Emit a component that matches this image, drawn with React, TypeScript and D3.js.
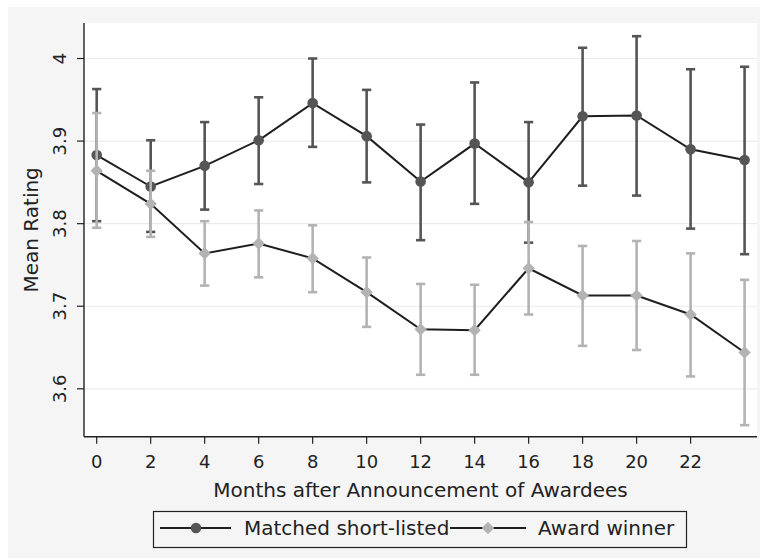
import React from 'react';
import * as d3 from 'd3';

// months after announcement
const months = [0, 2, 4, 6, 8, 10, 12, 14, 16, 18, 20, 22, 24];
const xTicks = [0, 2, 4, 6, 8, 10, 12, 14, 16, 18, 20, 22];
const yTicks = [3.6, 3.7, 3.8, 3.9, 4];

// Matched short-listed
const matchedMean = [3.883, 3.845, 3.870, 3.901, 3.946, 3.906, 3.851, 3.897, 3.850, 3.930, 3.931, 3.890, 3.877];
const matchedLo = [3.803, 3.790, 3.817, 3.848, 3.893, 3.850, 3.780, 3.824, 3.777, 3.846, 3.834, 3.794, 3.763];
const matchedHi = [3.963, 3.901, 3.923, 3.953, 4.000, 3.962, 3.920, 3.971, 3.923, 4.013, 4.027, 3.987, 3.990];

// Award winner
const winnerMean = [3.864, 3.824, 3.764, 3.776, 3.758, 3.717, 3.672, 3.671, 3.746, 3.713, 3.713, 3.690, 3.644];
const winnerLo = [3.795, 3.784, 3.725, 3.735, 3.717, 3.675, 3.617, 3.617, 3.690, 3.652, 3.647, 3.615, 3.556];
const winnerHi = [3.934, 3.864, 3.803, 3.816, 3.798, 3.759, 3.727, 3.726, 3.802, 3.773, 3.779, 3.764, 3.732];

const seriesNames = ['Matched short-listed', 'Award winner'];

const W = 764;
const H = 559;
const plot = { left: 84, right: 757, top: 23, bottom: 436.7 };
const font = '"DejaVu Sans", sans-serif';
const darkColor = '#555555';
const lightColor = '#b3b3b3';
const lineColor = '#1e1e1e';

const x = d3.scaleLinear().domain([-0.47, 24.46]).range([plot.left, plot.right]);
const y = d3.scaleLinear().domain([3.542, 4.043]).range([plot.bottom, plot.top]);

const diamond = (cx: number, cy: number, r: number) =>
  `M${cx},${cy - r}L${cx + r},${cy}L${cx},${cy + r}L${cx - r},${cy}Z`;

const App: React.FC = () => {
  const line = d3.line<number>().x((_, i) => x(months[i])).y(d => y(d));

  const errorBars = (lo: number[], hi: number[], color: string, key: string) =>
    months.map((m, i) => {
      const cx = x(m);
      return (
        <g key={key + i} stroke={color} strokeWidth={2.6} fill="none">
          <line x1={cx} x2={cx} y1={y(lo[i])} y2={y(hi[i])} />
          <line x1={cx - 4.6} x2={cx + 4.6} y1={y(lo[i])} y2={y(lo[i])} />
          <line x1={cx - 4.6} x2={cx + 4.6} y1={y(hi[i])} y2={y(hi[i])} />
        </g>
      );
    });

  return (
    <div style={{ position: 'fixed', left: 0, top: 0 }}>
      <svg width={W} height={H} style={{ display: 'block' }}>
        <rect x={0} y={0} width={W} height={H} fill="#ffffff" />
        <rect x={8} y={7} width={752} height={551} fill="#f5f5f5" />
        <rect x={plot.left} y={plot.top} width={plot.right - plot.left} height={plot.bottom - plot.top} fill="#ffffff" />

        {/* grid */}
        {yTicks.map(t => (
          <line key={'g' + t} x1={plot.left} x2={plot.right} y1={y(t)} y2={y(t)} stroke="#ebebeb" strokeWidth={1.2} />
        ))}

        {/* matched short-listed */}
        {errorBars(matchedLo, matchedHi, darkColor, 'm')}
        <path d={line(matchedMean) || ''} fill="none" stroke={lineColor} strokeWidth={2} />
        {matchedMean.map((v, i) => (
          <circle key={'mc' + i} cx={x(months[i])} cy={y(v)} r={5.3} fill={darkColor} />
        ))}

        {/* award winner */}
        {errorBars(winnerLo, winnerHi, lightColor, 'w')}
        <path d={line(winnerMean) || ''} fill="none" stroke={lineColor} strokeWidth={2} />
        {winnerMean.map((v, i) => (
          <path key={'wd' + i} d={diamond(x(months[i]), y(v), 6.2)} fill={lightColor} />
        ))}

        {/* axes */}
        <line x1={plot.left} x2={plot.left} y1={plot.top} y2={plot.bottom} stroke="#222" strokeWidth={1.4} />
        <line x1={plot.left} x2={plot.right} y1={plot.bottom} y2={plot.bottom} stroke="#222" strokeWidth={1.4} />

        {yTicks.map(t => (
          <g key={'yt' + t}>
            <line x1={plot.left - 7} x2={plot.left} y1={y(t)} y2={y(t)} stroke="#222" strokeWidth={1.2} />
            <text
              transform={`translate(66,${y(t)}) rotate(-90)`}
              textAnchor="middle"
              fontFamily={font}
              fontSize={18}
              fill="#222"
            >
              {d3.format('~g')(t)}
            </text>
          </g>
        ))}

        {xTicks.map(t => (
          <g key={'xt' + t}>
            <line x1={x(t)} x2={x(t)} y1={plot.bottom} y2={plot.bottom + 7} stroke="#222" strokeWidth={1.2} />
            <text x={x(t)} y={468} textAnchor="middle" fontFamily={font} fontSize={18} fill="#222">
              {t}
            </text>
          </g>
        ))}

        <text x={(plot.left + plot.right) / 2} y={497} textAnchor="middle" fontFamily={font} fontSize={20} fill="#222">
          Months after Announcement of Awardees
        </text>
        <text
          transform={`translate(38,${(plot.top + plot.bottom) / 2}) rotate(-90)`}
          textAnchor="middle"
          fontFamily={font}
          fontSize={20}
          fill="#222"
        >
          Mean Rating
        </text>

        {/* legend */}
        <rect x={153.5} y={511.5} width={533} height={36} fill="#f5f5f5" stroke="#222" strokeWidth={1.2} />
        <line x1={160} x2={231} y1={528} y2={528} stroke={lineColor} strokeWidth={2} />
        <circle cx={196} cy={528} r={5.3} fill={darkColor} />
        <text x={244} y={535} fontFamily={font} fontSize={20} fill="#222">{seriesNames[0]}</text>
        <line x1={450} x2={526} y1={528} y2={528} stroke={lineColor} strokeWidth={2} />
        <path d={diamond(488, 528, 6.2)} fill={lightColor} />
        <text x={538} y={535} fontFamily={font} fontSize={20} fill="#222">{seriesNames[1]}</text>
      </svg>
    </div>
  );
};

export default App;
